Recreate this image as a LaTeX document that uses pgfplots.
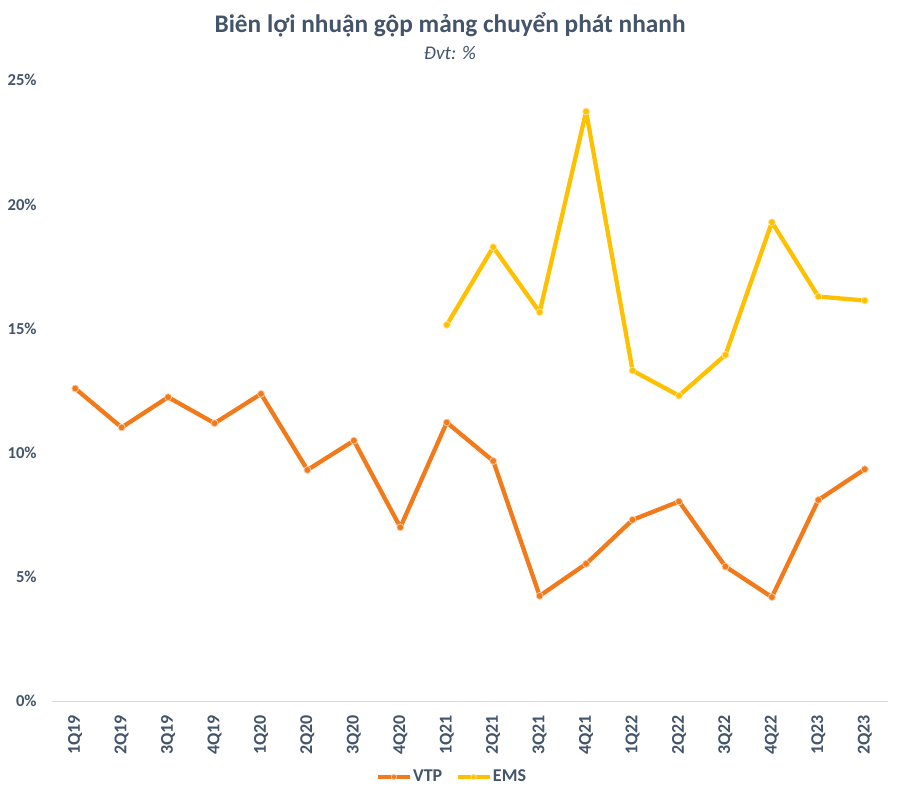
\documentclass[border=0pt]{standalone}
\usepackage{fontspec}
\setmainfont{Carlito}
\usepackage{pgfplots}
\pgfplotsset{compat=1.18}
\definecolor{txt}{HTML}{44546A}
\definecolor{vtp}{RGB}{242,122,26}
\definecolor{ems}{HTML}{FFC000}
\begin{document}
\begin{tikzpicture}
\path[use as bounding box] (-39pt,-73.3pt) rectangle (636pt,525.9pt);
\begin{axis}[
  at={(0,0)}, anchor=south west,
  scale only axis, width=627pt, height=465.75pt,
  xmin=-0.5, xmax=17.5, ymin=0, ymax=25,
  xtick={0,...,17},
  xticklabels={1Q19,2Q19,3Q19,4Q19,1Q20,2Q20,3Q20,4Q20,1Q21,2Q21,3Q21,4Q21,1Q22,2Q22,3Q22,4Q22,1Q23,2Q23},
  ytick={0,5,10,15,20,25},
  yticklabels={0\%,5\%,10\%,15\%,20\%,25\%},
  axis line style={draw=none},
  major tick style={draw=none},
  extra y ticks={0}, extra y tick labels={},
  extra y tick style={grid=major, major grid style={draw=black!15, line width=0.8pt}},
  x tick label style={rotate=90, anchor=east, font=\fontsize{13.5}{15}\selectfont\bfseries, text=txt, xshift=-7pt},
  y tick label style={font=\fontsize{12.5}{14}\selectfont\bfseries, text=txt, xshift=-8pt},
  every axis plot/.append style={line width=3.2pt, line join=round, mark=*, mark size=2.6pt},
  legend style={at={(0.478,-0.122)}, anchor=center, draw=none, legend columns=2,
    font=\fontsize{13.5}{15}\selectfont\bfseries, text=txt,
    nodes={inner xsep=1pt},
    /tikz/every even column/.append style={column sep=9pt}},
  legend image code/.code={
    \draw[#1, line width=3pt, mark=none] (0pt,0pt) -- (24pt,0pt);
    \draw[#1, mark=*, mark size=2pt, line width=0.6pt] plot coordinates {(12pt,0pt)};
  },
]
\addplot[color=vtp, mark options={fill=vtp, draw=vtp!40!white, line width=0.6pt}] coordinates {
(0,12.59) (1,11.02) (2,12.24) (3,11.19) (4,12.37) (5,9.31) (6,10.49) (7,7.00)
(8,11.22) (9,9.67) (10,4.24) (11,5.53) (12,7.30) (13,8.04) (14,5.42) (15,4.19)
(16,8.10) (17,9.34)};
\addlegendentry{VTP}
\addplot[color=ems, mark options={fill=ems, draw=ems!40!white, line width=0.6pt}] coordinates {
(8,15.15) (9,18.28) (10,15.66) (11,23.74) (12,13.31) (13,12.30) (14,13.94)
(15,19.28) (16,16.29) (17,16.13)};
\addlegendentry{EMS}
\end{axis}
\node[text=txt, font=\fontsize{19}{22}\selectfont\bfseries] at (298.5pt,507.4pt) {Biên lợi nhuận gộp mảng chuyển phát nhanh};
\node[text=txt, font=\fontsize{14.5}{17}\selectfont\itshape] at (298.5pt,486.4pt) {Đvt: \%};
\end{tikzpicture}
\end{document}
